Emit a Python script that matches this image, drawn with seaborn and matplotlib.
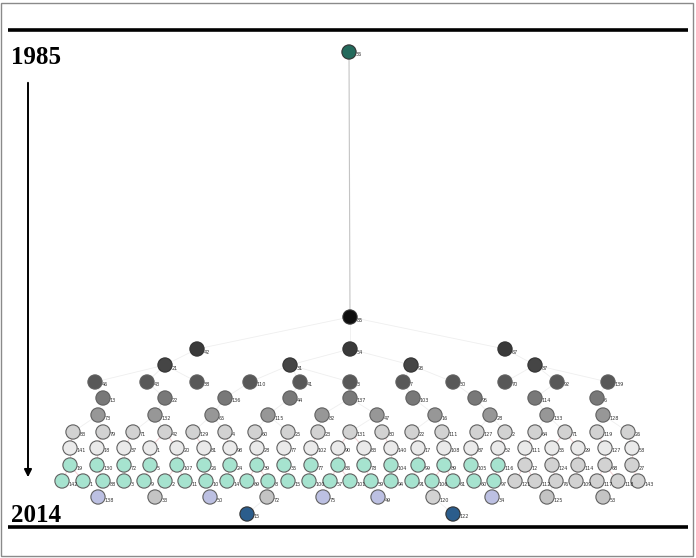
import numpy as np
import pandas as pd
import matplotlib
matplotlib.use('Agg')
import matplotlib.pyplot as plt
import seaborn as sns
from matplotlib.patches import Rectangle

# posicao vertical de cada nivel (1985 no topo, 2014 embaixo)
row_y = [52, 317, 349, 365, 382, 398, 415, 432, 448, 465, 481, 497, 514]

row_x = [
    [349],
    [350],
    [197, 350, 505],
    [165, 290, 411, 535],
    [95, 147, 197, 250, 300, 350, 403, 453, 505, 557, 608],
    [103, 165, 225, 290, 350, 413, 475, 535, 597],
    [98, 155, 212, 268, 322, 377, 435, 490, 547, 603],
    [73, 103, 133, 165, 193, 225, 255, 288, 318, 350, 382, 412, 442, 477, 505, 535, 565, 597, 628],
    [70, 97, 124, 150, 177, 204, 230, 257, 284, 311, 338, 364, 391, 418, 444, 471, 498, 525, 552, 578, 605, 632],
    [70, 97, 124, 150, 177, 204, 230, 257, 284, 311, 338, 364, 391, 418, 444, 471, 498, 525, 552, 578, 605, 632],
    [62, 83, 103, 124, 144, 165, 185, 206, 227, 247, 268, 288, 309, 330, 350, 371, 391, 412, 432, 453, 474, 494,
     515, 535, 556, 576, 597, 618, 638],
    [98, 155, 210, 267, 323, 378, 433, 492, 547, 603],
    [247, 453],
]

row_labels = [
    ['36'],
    ['85'],
    ['42', '54', '67'],
    ['21', '31', '93', '87'],
    ['46', '43', '38', '110', '41', '3', '7', '30', '70', '92', '139'],
    ['13', '22', '136', '44', '137', '103', '95', '114', '6'],
    ['73', '132', '65', '115', '82', '47', '16', '28', '133', '128'],
    ['83', '79', '71', '42', '129', '4', '60', '25', '23', '131', '80', '22', '111', '127', '2', '64', '71', '119', '26'],
    ['141', '18', '37', '1', '20', '81', '98', '28', '77', '102', '90', '83', '140', '17', '108', '87', '52', '111',
     '35', '29', '127', '58'],
    ['19', '130', '72', '5', '107', '26', '24', '39', '35', '77', '86', '78', '104', '99', '89', '105', '116', '12',
     '124', '114', '68', '27'],
    ['142', '1', '88', '3', '9', '2', '11', '10', '14', '69', '8', '15', '100', '57', '101', '59', '94', '91', '106',
     '61', '60', '97', '121', '112', '76', '109', '117', '118', '143'],
    ['138', '33', '50', '72', '75', '49', '120', '34', '125', '53'],
    ['15', '122'],
]

# tipo de cor de cada no
row_kind = [
    ['teal'],
    ['black'],
    ['d1'] * 3,
    ['d2'] * 4,
    ['d3'] * 11,
    ['d4'] * 9,
    ['d5'] * 10,
    ['l1'] * 19,
    ['l2'] * 22,
    ['mint'] * 17 + ['l1'] * 5,
    ['mint'] * 22 + ['l1'] * 7,
    ['lav', 'g', 'lav', 'g', 'lav', 'lav', 'l1', 'lav', 'g', 'g'],
    ['blue', 'blue'],
]

cores = {
    'teal': '#236a5c', 'black': '#0d0d0d', 'd1': '#3a3a3a', 'd2': '#454545',
    'd3': '#585858', 'd4': '#787878', 'd5': '#979797', 'l1': '#d2d2d2',
    'l2': '#eaeaea', 'mint': '#a6e3cf', 'lav': '#bcc0e2', 'g': '#c4c4c4',
    'blue': '#2b5d8c',
}

linhas = []
for i, y in enumerate(row_y):
    for x, lab, k in zip(row_x[i], row_labels[i], row_kind[i]):
        linhas.append({'row': i, 'x': x, 'y': y, 'label': lab, 'kind': k})
df = pd.DataFrame(linhas)

fig = plt.figure(figsize=(6.96, 5.58), dpi=100)
ax = fig.add_axes([0, 0, 1, 1])
ax.set_xlim(0, 696)
ax.set_ylim(558, 0)
ax.axis('off')

# moldura cinza
ax.add_patch(Rectangle((0.002, 0.004), 0.993, 0.99, transform=ax.transAxes,
                       fill=False, edgecolor='#8a8a8a', lw=1.0))

# linhas horizontais grossas
ax.plot([8, 688], [30, 30], color='black', lw=2.6, solid_capstyle='butt')
ax.plot([8, 688], [527, 527], color='black', lw=2.6, solid_capstyle='butt')

ax.text(11, 57, '1985', fontsize=18, fontweight='bold', family='Liberation Serif', va='center', ha='left')
ax.text(11, 516, '2014', fontsize=18, fontweight='bold', family='Liberation Serif', va='center', ha='left')
ax.annotate('', xy=(28, 480), xytext=(28, 80),
            arrowprops=dict(arrowstyle='-|>', color='black', lw=1.4, mutation_scale=11))

# caminho principal 1985 -> no preto
ax.plot([row_x[0][0], row_x[1][0]], [row_y[0], row_y[1]], color='#c4c4c4', lw=0.8, zorder=1)

# ligacoes: cada no ao mais proximo da linha de cima
for i in range(2, len(row_y)):
    acima = np.array(row_x[i - 1])
    for x in row_x[i]:
        j = np.argmin(np.abs(acima - x))
        if i in (8, 9, 10):
            ax.plot([x, acima[j]], [row_y[i], row_y[i - 1]], color='#e3a3a8', lw=0.7, alpha=0.5, zorder=1)
        else:
            ax.plot([x, acima[j]], [row_y[i], row_y[i - 1]], color='#d0d0d0', lw=0.6, alpha=0.35, zorder=1)

bordas = ['#333333' if k in ('teal', 'black', 'd1', 'd2', 'blue') else '#606060' for k in df['kind']]
sns.scatterplot(data=df, x='x', y='y', hue='kind', palette=cores, legend=False,
                s=105, edgecolor=bordas, linewidth=0.8, ax=ax, zorder=3)

for _, r in df.iterrows():
    ax.text(r['x'] + 6.5, r['y'] + 4.5, r['label'], fontsize=3.5, color='#333333', zorder=4)

ax.set_xlabel('')
ax.set_ylabel('')
ax.axis('off')
fig.savefig('out.png', dpi=100)
